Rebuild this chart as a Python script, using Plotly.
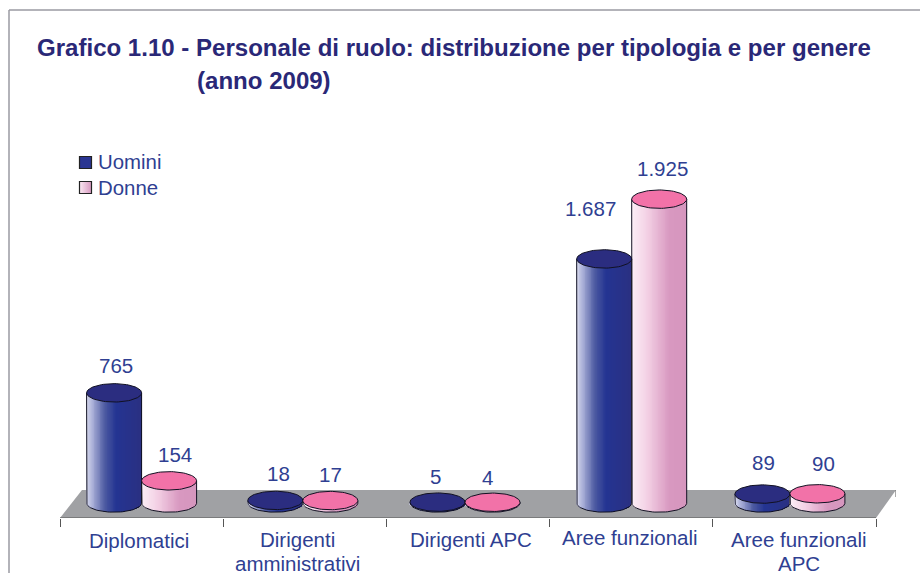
import math
import plotly.graph_objects as go

# ---- data ----
categories = ["Diplomatici", "Dirigenti<br>amministrativi", "Dirigenti APC", "Aree funzionali", "Aree funzionali<br>APC"]
series_names = ["Uomini", "Donne"]
uomini_labels = ["765", "18", "5", "1.687", "89"]
donne_labels = ["154", "17", "4", "1.925", "90"]
# heights as actually drawn in the reference, in value units
uomini_drawn = [765, 18, 6, 1695, 62]
donne_drawn = [154, 17, 5, 2110, 64]

# ---- layout constants (pixels) ----
W, H = 920, 573
L, FRONT_R, BACK_R = 60, 876, 896
TOP, FLOOR_FRONT, ZERO, FLOOR_BACK = 100, 518, 503, 490
PX_PER_UNIT = 0.144
GROUP_PX = (FRONT_R - L) / 5
CYL_W = 55 / GROUP_PX
ELL_H = 9.2 / PX_PER_UNIT
group_nudge = [0, -2, -3, 0.5, -4.5]
label_xshift = [-3, -7, 3, -1, 5]
label_first_y = [540, 539, 539, 537, 539]
LINE_GAP = 24.5
u_lab_shift = [(2, 27), (3, 27), (-2, 26), (-14, 50), (1, 32)]
d_lab_shift = [(6, 26), (0, 26), (-5, 25), (3, 31), (6, 30)]

TITLE_C = "#2a2877"
TXT_C = "#2f3f92"
EDGE = "#111122"
BLUE_TOP, PINK_TOP = "#2b2d80", "#f272a8"


def px_x(p):
    return (p - L) / GROUP_PX


def px_y(p):
    return (ZERO - p) / PX_PER_UNIT


def paper_x(p):
    return (p - L) / (BACK_R - L)


def paper_y(p):
    return (FLOOR_FRONT - p) / (FLOOR_FRONT - TOP)


def mix(stops, t):
    for (a, ca), (b, cb) in zip(stops, stops[1:]):
        if t <= b:
            f = (t - a) / (b - a)
            return "rgb(%d,%d,%d)" % tuple(round(x + (y - x) * f) for x, y in zip(ca, cb))
    return "rgb(%d,%d,%d)" % stops[-1][1]


BLUE_GRAD = [(0, (222, 224, 241)), (0.12, (170, 176, 216)), (0.35, (74, 88, 160)), (0.55, (36, 52, 146)), (1, (42, 48, 130))]
PINK_GRAD = [(0, (252, 240, 247)), (0.3, (243, 208, 228)), (0.7, (216, 152, 192)), (1, (214, 150, 190))]

fig = go.Figure()
N = 64
bx, by, bbase, bw, bc = [], [], [], [], []
overlays = []
for g in range(len(categories)):
    cx = g + 0.5 + group_nudge[g] / GROUP_PX
    for s, heights in enumerate((uomini_drawn, donne_drawn)):
        h = heights[g]
        c = cx + (s - 0.5) * CYL_W
        for k in range(N):
            t = (k + 0.5) / N
            u = 2 * t - 1
            drop = ELL_H * math.sqrt(max(0, 1 - u * u))
            bx.append(c + u * CYL_W / 2)
            bbase.append(-drop)
            by.append(h + drop)
            bw.append(CYL_W / N * 1.5)
            bc.append(mix(BLUE_GRAD if s == 0 else PINK_GRAD, t))
        angs = [i * math.pi / 40 for i in range(81)]
        # outline of the body: left edge, bottom arc, right edge
        ox = [c - CYL_W / 2] + [c - math.cos(a) * CYL_W / 2 for a in angs[:41]] + [c + CYL_W / 2]
        oy = [h] + [-math.sin(a) * ELL_H for a in angs[:41]] + [h]
        overlays.append(go.Scatter(x=ox, y=oy, mode="lines", line=dict(color=EDGE, width=1), hoverinfo="skip", showlegend=False))
        # top ellipse
        tx = [c + math.cos(a) * CYL_W / 2 for a in angs]
        ty = [h + math.sin(a) * ELL_H for a in angs]
        overlays.append(go.Scatter(x=tx, y=ty, mode="lines", fill="toself",
                                   fillcolor=BLUE_TOP if s == 0 else PINK_TOP,
                                   line=dict(color=EDGE, width=1), hoverinfo="skip", showlegend=False))

fig.add_trace(go.Bar(x=bx, y=by, base=bbase, width=bw, marker=dict(color=bc, line=dict(width=0)),
                     hoverinfo="skip", showlegend=False))
for tr in overlays:
    fig.add_trace(tr)

ann = []

# legend drawn as marker + annotation so the swatch sits close to its label
for name, col, col2, yp, ty in ((series_names[0], "#2a3592", "#2a3592", 162.5, 162), (series_names[1], "#fbeaf3", "#d898c0", 187.5, 188)):
    fig.add_trace(go.Scatter(x=[px_x(85.5)], y=[px_y(yp)], mode="markers",
                             marker=dict(symbol="square", size=12, color=col, gradient=dict(type="horizontal", color=col2),
                                         line=dict(color="#222", width=1.2)),
                             cliponaxis=False, hoverinfo="skip", showlegend=False))
    ann.append(dict(x=px_x(96), y=px_y(ty), xref="x", yref="y", xanchor="left", yanchor="middle", showarrow=False,
                    text=name, font=dict(size=20.4, color=TXT_C)))

for g, cat in enumerate(categories):
    for li, line in enumerate(cat.split("<br>")):
        ann.append(dict(x=g + 0.5, y=paper_y(label_first_y[g] + li * LINE_GAP), xref="x", yref="paper", text=line, showarrow=False,
                        yanchor="middle", xshift=label_xshift[g], font=dict(size=20.5, color=TXT_C)))
    cx = g + 0.5 + group_nudge[g] / GROUP_PX
    for s, (labs, hts, shift) in enumerate(((uomini_labels, uomini_drawn, u_lab_shift), (donne_labels, donne_drawn, d_lab_shift))):
        ann.append(dict(x=cx + (s - 0.5) * CYL_W, y=hts[g], xref="x", yref="y", text=labs[g], showarrow=False,
                        xshift=shift[g][0], yshift=shift[g][1], font=dict(size=20.5, color=TXT_C)))

ann.append(dict(x=paper_x(34.5), y=paper_y(47.5), xref="paper", yref="paper", xanchor="left", yanchor="middle", showarrow=False,
                text="<b>Grafico 1.10 - Personale di ruolo: distribuzione per tipologia e per genere</b>",
                font=dict(size=24.05, color=TITLE_C)))
ann.append(dict(x=paper_x(195), y=paper_y(80.5), xref="paper", yref="paper", xanchor="left", yanchor="middle", showarrow=False,
                text="<b>(anno 2009)</b>", font=dict(size=24.05, color=TITLE_C)))

floor_path = "M %f %f L %f %f L %f %f L %f %f Z" % (
    px_x(L), px_y(FLOOR_FRONT), px_x(FRONT_R), px_y(FLOOR_FRONT), px_x(BACK_R), px_y(FLOOR_BACK), px_x(82), px_y(FLOOR_BACK))
shapes = [
    dict(type="path", path=floor_path, xref="x", yref="y", layer="below", fillcolor="#a0a1a4", line=dict(width=0)),
    dict(type="line", xref="x", yref="y", x0=px_x(L), x1=px_x(FRONT_R), y0=px_y(FLOOR_FRONT), y1=px_y(FLOOR_FRONT), line=dict(color="#555", width=1)),
    dict(type="line", xref="x", yref="y", x0=px_x(BACK_R), x1=px_x(BACK_R), y0=px_y(FLOOR_BACK), y1=px_y(497), line=dict(color="#555", width=1)),
    dict(type="line", xref="paper", yref="paper", x0=paper_x(9), x1=paper_x(921), y0=paper_y(10), y1=paper_y(10), line=dict(color="#9a9aa2", width=1.5)),
    dict(type="line", xref="paper", yref="paper", x0=paper_x(9), x1=paper_x(9), y0=paper_y(10), y1=paper_y(574), line=dict(color="#9a9aa2", width=1.5)),
]

fig.update_layout(
    width=W, height=H, autosize=False, paper_bgcolor="white", plot_bgcolor="white",
    margin=dict(l=L, r=W - BACK_R, t=TOP, b=H - FLOOR_FRONT, pad=0),
    barmode="overlay", bargap=0, showlegend=False,
    font=dict(family="Liberation Sans, Arial, sans-serif"),
    xaxis=dict(range=[0, px_x(BACK_R)], showgrid=False, zeroline=False, showline=False, showticklabels=False,
               tickmode="array", tickvals=list(range(6)), ticks="outside", ticklen=8, tickcolor="#555", tickwidth=1),
    yaxis=dict(range=[px_y(FLOOR_FRONT), px_y(TOP)], visible=False),
    annotations=ann, shapes=shapes,
)
fig.write_html("out.html", config=dict(displayModeBar=False),
               post_script="document.body.style.margin='0';document.body.style.overflow='hidden';")
